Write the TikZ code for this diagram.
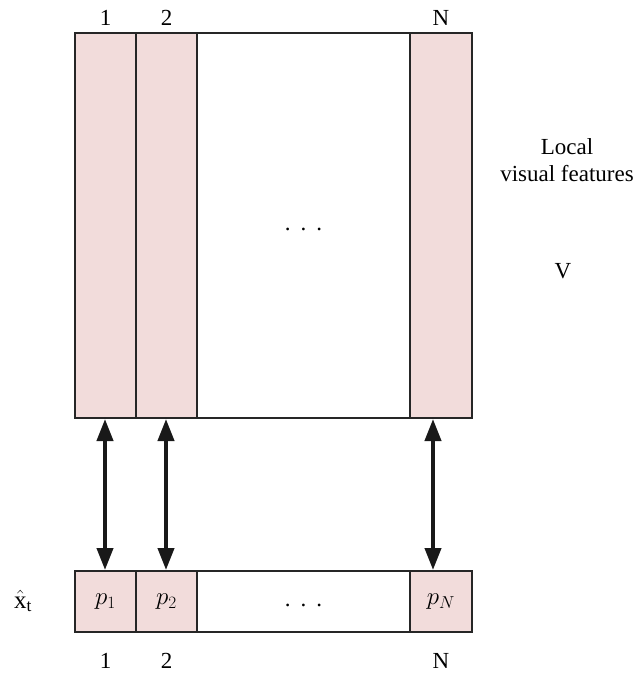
\documentclass[tikz,border=0pt]{standalone}
\usepackage{fontspec}
\setmainfont{Liberation Serif}
\usetikzlibrary{arrows.meta}
\definecolor{cellpink}{HTML}{F2DCDB}
\definecolor{edgegray}{HTML}{262626}
\tikzset{
  cell/.style={draw=edgegray, line width=1.2pt, fill=cellpink, inner sep=0pt, outer sep=0pt, anchor=north west},
  blank/.style={cell, fill=white},
  lbl/.style={font=\fontsize{23}{27}\selectfont, inner sep=0pt},
  mlbl/.style={font=\fontsize{25}{29}\selectfont, inner sep=0pt},
  link/.style={line width=4pt, draw=black!90, {Triangle[length=22pt,width=16pt]}-{Triangle[length=22pt,width=16pt]}, shorten <=1pt, shorten >=1pt},
}
\begin{document}
\begin{tikzpicture}[x=1pt,y=-1pt]
\useasboundingbox (0,0) rectangle (634,673);
% feature matrix V, one column per region
\node[cell,  minimum width=61pt,  minimum height=385pt] (c1) at (75,33) {};
\node[cell,  minimum width=61pt,  minimum height=385pt] (c2) at (136,33) {};
\node[blank, minimum width=213pt, minimum height=385pt] (cm) at (197,33) {};
\node[cell,  minimum width=62pt,  minimum height=385pt] (cN) at (410,33) {};
\node[lbl] at ([yshift=-4pt]cm.center) {.\hspace{10pt}.\hspace{10pt}.};
% attention weights row
\node[cell,  minimum width=61pt,  minimum height=61pt] (b1) at (75,571) {};
\node[cell,  minimum width=61pt,  minimum height=61pt] (b2) at (136,571) {};
\node[blank, minimum width=213pt, minimum height=61pt] (bm) at (197,571) {};
\node[cell,  minimum width=62pt,  minimum height=61pt] (bN) at (410,571) {};
\node[mlbl] at (b1.center) {$p_1$};
\node[mlbl] at (b2.center) {$p_2$};
\node[mlbl] at (bN.center) {$p_N$};
\node[lbl] at ([yshift=-4pt]bm.center) {.\hspace{10pt}.\hspace{10pt}.};
% column indices
\node[lbl, anchor=base] at ([yshift=8pt]c1.north) {1};
\node[lbl, anchor=base] at ([yshift=8pt]c2.north) {2};
\node[lbl, anchor=base] at ([yshift=8pt]cN.north) {N};
\node[lbl, anchor=base] at ([yshift=-36pt]b1.south) {1};
\node[lbl, anchor=base] at ([yshift=-36pt]b2.south) {2};
\node[lbl, anchor=base] at ([yshift=-36pt]bN.south) {N};
% side labels
\node[lbl, align=center] (feat) at (567,160) {Local\\visual features};
\node[lbl] (vlab) at (563,271) {V};
\node[mlbl] (xt) at (23,601) {$\hat{\mathrm{x}}_{\mathrm{t}}$};
% links between columns and weights
\draw[link] ([xshift=-0.5pt]c1.south) -- ([xshift=-0.5pt]b1.north);
\draw[link] ([xshift=-0.5pt]c2.south) -- ([xshift=-0.5pt]b2.north);
\draw[link] ([xshift=-8pt]cN.south) -- ([xshift=-8pt]bN.north);
\end{tikzpicture}
\end{document}
